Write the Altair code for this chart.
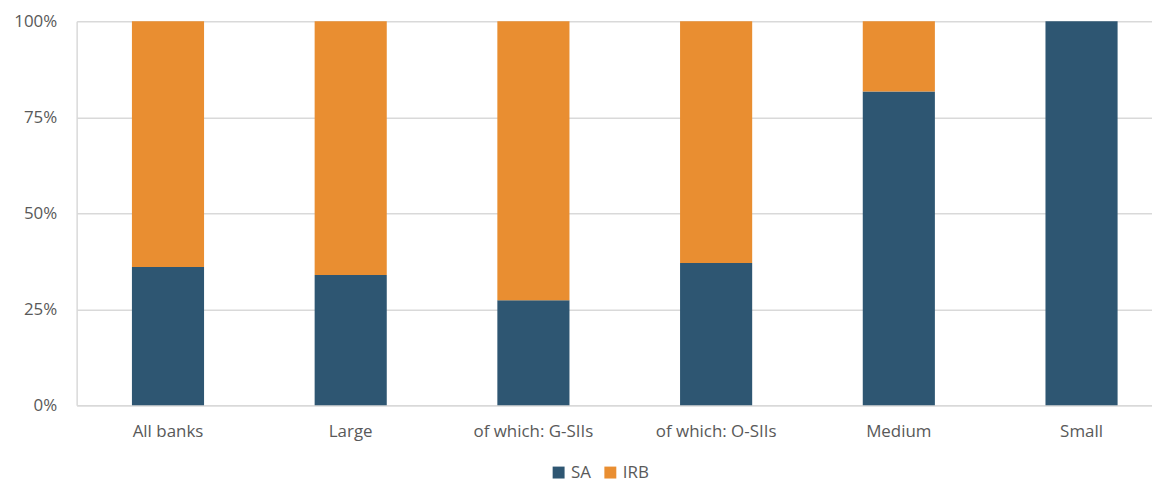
import altair as alt
import pandas as pd

categories = ["All banks", "Large", "of which: G-SIIs", "of which: O-SIIs", "Medium", "Small"]
sa = [36.0, 33.9, 27.3, 37.0, 81.7, 100.0]
irb = [100 - v for v in sa]
series = ["SA", "IRB"]
colors = ["#2E5672", "#E98E31"]

rows = []
for c, s, i in zip(categories, sa, irb):
    rows.append({"cat": c, "series": "SA", "value": s / 100, "ord": 0})
    rows.append({"cat": c, "series": "IRB", "value": i / 100, "ord": 1})
df = pd.DataFrame(rows)

font = "Open Sans"
grey = "#595959"
fs = 17

chart = alt.Chart(df).mark_bar(size=72.5).encode(
    x=alt.X("cat:N", sort=categories, title=None,
            scale=alt.Scale(paddingInner=0.6, paddingOuter=0.3, range=[0, 1102]),
            axis=alt.Axis(labelAngle=0, ticks=False, labelPadding=19, labelFontSize=fs,
                          labelColor=grey, labelFont=font, domainColor="#D9D9D9",
                          domainWidth=1.5, grid=False)),
    y=alt.Y("value:Q", stack="zero", title=None,
            scale=alt.Scale(domain=[0, 1], nice=False),
            axis=alt.Axis(format=".0%", values=[0, 0.25, 0.5, 0.75, 1], ticks=False,
                          labelPadding=20, labelFontSize=fs, labelColor=grey,
                          labelFont=font, domainColor="#D9D9D9", domainWidth=1.5,
                          gridColor="#D9D9D9", gridWidth=1.5)),
    color=alt.Color("series:N", scale=alt.Scale(domain=series, range=colors),
                    legend=alt.Legend(title=None, orient="none", direction="horizontal",
                                      legendX=476, legendY=445, padding=0,
                                      symbolType="square", symbolSize=144,
                                      symbolStrokeWidth=0, labelOffset=4,
                                      labelFontSize=fs, labelColor=grey,
                                      labelFont=font, columnPadding=10)),
    order=alt.Order("ord:Q"),
).properties(
    width=1073, height=386,
    autosize=alt.AutoSizeParams(type="none"),
    padding={"left": 69, "top": 12, "right": 8, "bottom": 76},
).configure_view(stroke=None)

chart.save("out.html", embed_options={"renderer": "svg", "actions": False})
